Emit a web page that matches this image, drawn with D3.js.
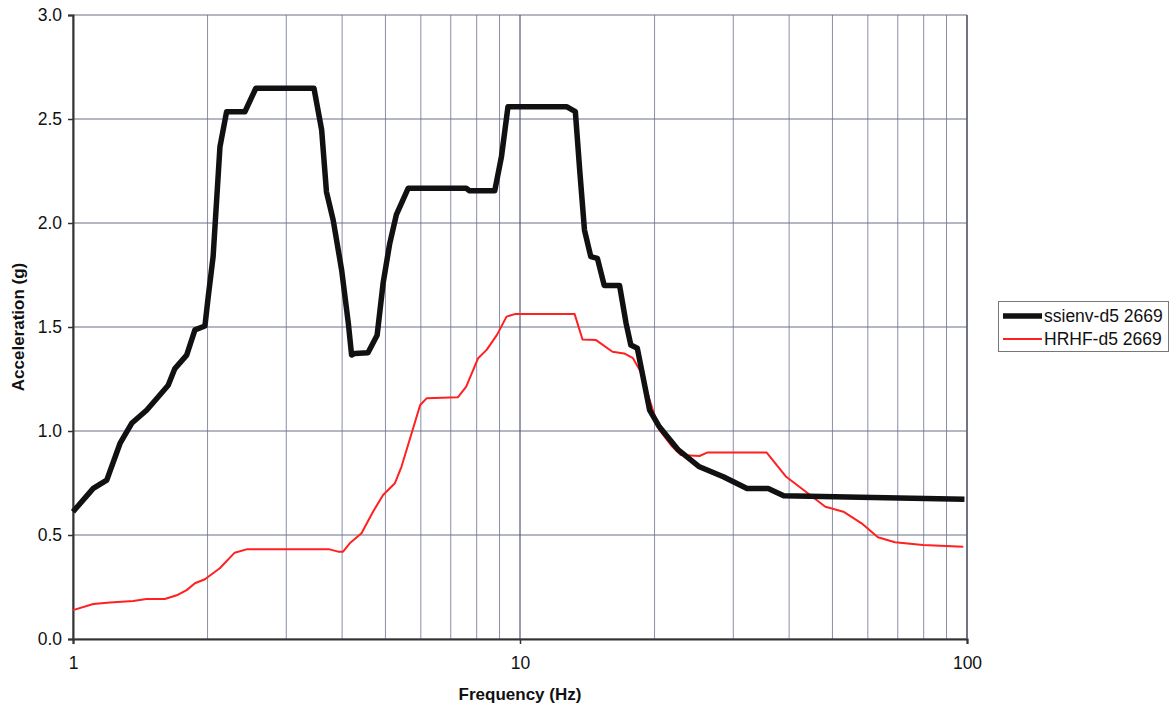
<!DOCTYPE html>
<html><head><meta charset="utf-8">
<script src="https://cdn.jsdelivr.net/npm/d3@7"></script>
<style>body{margin:0;background:#fff;} text{font-family:"Liberation Sans",Arial,sans-serif;}</style>
</head><body><svg id="c" width="1170" height="708"></svg>
<script>
const seriesNames = ["ssienv-d5 2669", "HRHF-d5 2669"];
const ssienvFreq = [1.0,1.11,1.19,1.274,1.353,1.461,1.552,1.633,1.69,1.796,1.874,1.973,2.007,2.058,2.132,2.206,2.424,2.565,3.46,3.6,3.69,3.82,3.99,4.13,4.2,4.27,4.57,4.79,4.94,5.11,5.29,5.62,7.58,7.71,8.78,9.09,9.4,12.71,13.3,13.6,13.94,14.4,14.9,15.43,16.7,17.27,17.7,18.3,19.5,20.5,22.6,25.2,28.5,32.2,35.9,38.9,57.6,98.7];
const ssienvVal = [0.612,0.724,0.764,0.94,1.037,1.10,1.165,1.22,1.30,1.365,1.486,1.505,1.646,1.838,2.367,2.535,2.535,2.648,2.648,2.447,2.15,2.014,1.774,1.518,1.365,1.373,1.376,1.46,1.71,1.90,2.04,2.167,2.167,2.155,2.155,2.319,2.559,2.559,2.535,2.255,1.966,1.838,1.83,1.70,1.70,1.518,1.413,1.398,1.10,1.02,0.909,0.828,0.78,0.724,0.724,0.689,0.681,0.672];
const hrhfFreq = [1.0,1.11,1.21,1.364,1.46,1.605,1.706,1.796,1.874,1.973,2.13,2.30,2.445,3.75,3.92,4.02,4.16,4.42,4.69,4.94,5.25,5.43,5.98,6.18,7.26,7.58,8.06,8.42,8.88,9.33,9.74,13.25,13.8,14.8,16.1,17.1,17.9,18.7,19.5,20.5,21.9,22.9,25.2,26.3,35.6,39.4,43.6,48.2,52.9,58.1,63.2,69.0,79.7,98.1];
const hrhfVal = [0.139,0.168,0.176,0.183,0.192,0.192,0.21,0.235,0.268,0.287,0.34,0.415,0.431,0.431,0.42,0.42,0.46,0.508,0.612,0.692,0.749,0.828,1.125,1.157,1.162,1.213,1.35,1.39,1.462,1.55,1.562,1.562,1.44,1.437,1.381,1.373,1.35,1.277,1.149,1.005,0.925,0.885,0.88,0.897,0.897,0.78,0.708,0.636,0.612,0.556,0.489,0.465,0.452,0.444];
const yTicks = [0,0.5,1.0,1.5,2.0,2.5,3.0];
const xTickLabels = [1,10,100];

const svg = d3.select("#c");
const L=73, R=967, T=15, B=639;
const x = d3.scaleLog().domain([1,100]).range([L,R]);
const y = d3.scaleLinear().domain([0,3]).range([B,T]);

const minors=[];
for (const d of [1,10]) for (let k=2;k<=9;k++) minors.push(d*k);
svg.append("g").selectAll("line").data(minors).join("line")
  .attr("x1",d=>x(d)).attr("x2",d=>x(d)).attr("y1",T).attr("y2",B)
  .attr("stroke","#8a8fa8").attr("stroke-width",1);
svg.append("g").selectAll("line").data(yTicks).join("line")
  .attr("x1",L).attr("x2",R).attr("y1",d=>y(d)).attr("y2",d=>y(d))
  .attr("stroke","#6a6f88").attr("stroke-width",1.2);
svg.append("g").selectAll("line").data(xTickLabels).join("line")
  .attr("x1",d=>x(d)).attr("x2",d=>x(d)).attr("y1",T).attr("y2",B)
  .attr("stroke","#555a70").attr("stroke-width",1.2);

const ya = svg.append("g").attr("transform",`translate(${L},0)`)
  .call(d3.axisLeft(y).tickValues(yTicks).tickFormat(d3.format(".1f")).tickSize(5).tickPadding(6));
const xa = svg.append("g").attr("transform",`translate(0,${B})`)
  .call(d3.axisBottom(x).tickValues(xTickLabels).tickFormat(d3.format("d")).tickSize(5).tickPadding(13));
[ya,xa].forEach(g=>{
  g.select(".domain").attr("stroke","#333").attr("stroke-width",2);
  g.selectAll(".tick line").attr("stroke","#333").attr("stroke-width",1.5);
  g.selectAll(".tick text").attr("font-size",17.5).attr("fill","#111").attr("font-family","Liberation Sans, Arial, sans-serif");
});
svg.append("line").attr("x1",R).attr("x2",R).attr("y1",T).attr("y2",B).attr("stroke","#555a70").attr("stroke-width",1.2);

const line = d3.line().x(d=>x(d[0])).y(d=>y(d[1]));
svg.append("path").datum(hrhfFreq.map((f,i)=>[f,hrhfVal[i]])).attr("d",line)
  .attr("fill","none").attr("stroke","#ff2020").attr("stroke-width",2).attr("stroke-linejoin","round");
svg.append("path").datum(ssienvFreq.map((f,i)=>[f,ssienvVal[i]])).attr("d",line)
  .attr("fill","none").attr("stroke","#111").attr("stroke-width",5.5).attr("stroke-linejoin","round");

svg.append("text").attr("x",(L+R)/2).attr("y",700).attr("text-anchor","middle")
  .attr("font-size",17).attr("font-weight","bold").attr("fill","#111").text("Frequency (Hz)");
svg.append("text").attr("transform",`translate(24,${(T+B)/2}) rotate(-90)`).attr("text-anchor","middle")
  .attr("font-size",17).attr("font-weight","bold").attr("fill","#111").text("Acceleration (g)");

const lg = svg.append("g");
lg.append("rect").attr("x",998.5).attr("y",301.5).attr("width",170).attr("height",50)
  .attr("fill","#fff").attr("stroke","#777").attr("stroke-width",1);
const cols=["#111","#ff2020"], widths=[5.5,2];
seriesNames.forEach((n,i)=>{
  const yy=316+i*23;
  lg.append("line").attr("x1",1003).attr("x2",1042).attr("y1",yy).attr("y2",yy)
    .attr("stroke",cols[i]).attr("stroke-width",widths[i]);
  lg.append("text").attr("x",1044).attr("y",yy+6).attr("font-size",17.5).attr("fill","#111").text(n);
});
</script></body></html>
